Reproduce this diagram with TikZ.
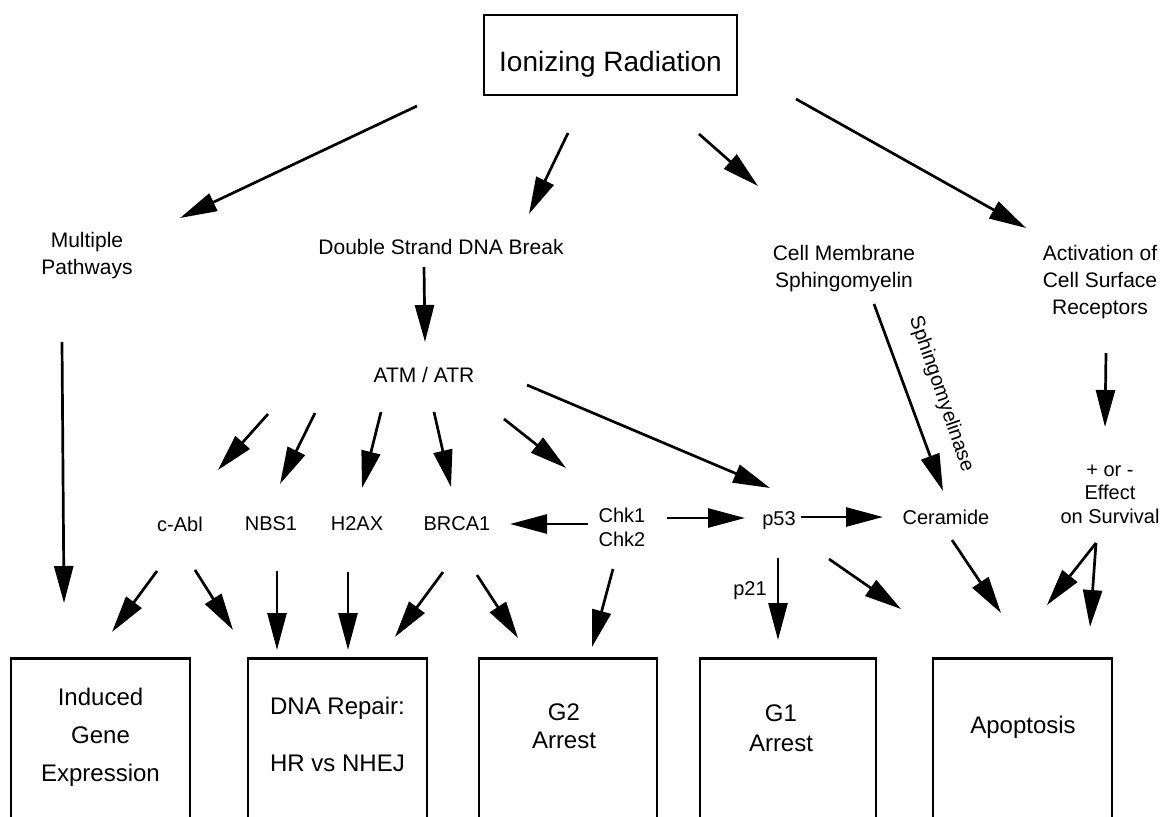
\documentclass[tikz,border=0pt]{standalone}
\usepackage{fontspec}
\setmainfont{Liberation Sans}
\usetikzlibrary{arrows.meta,calc}
\begin{document}
\begin{tikzpicture}[x=1pt,y=-1pt,
  arr/.style={line width=2.7pt,-{Triangle[length=37pt,width=19pt]}},
  lab/.style={font=\fontsize{21}{27}\selectfont,align=center,inner sep=0pt},
  mid/.style={font=\fontsize{20}{24}\selectfont,align=center,inner sep=0pt},
  btxt/.style={font=\fontsize{24}{30}\selectfont,align=center,inner sep=0pt},
  obox/.style={draw,line width=2.7pt,minimum width=#1,minimum height=220pt,anchor=north,inner sep=0pt}
]
\useasboundingbox (0,0) rectangle (1168,817);
\clip (0,0) rectangle (1168,817);

% top box
\node[draw,line width=2.7pt,minimum width=253pt,minimum height=80pt,inner sep=0pt] (ir) at (610.5,55) {};
\node[font=\fontsize{28}{34}\selectfont,inner sep=0pt] (irt) at (610.5,64) {Ionizing Radiation};

% second level
\node[lab] (mp) at (87,255.5) {Multiple\\Pathways};
\node[lab] (dsb) at (441,247) {Double Strand DNA Break};
\node[lab] (cms) at (844,269) {Cell Membrane\\Sphingomyelin};
\node[lab] (acsr) at (1100,282) {Activation of\\Cell Surface\\Receptors};

\node[lab] (atm) at (424,375) {ATM / ATR};

% middle row
\node[mid] (cabl) at (180,524) {c-Abl};
\node[mid] (nbs1) at (271,524) {NBS1};
\node[mid] (h2ax) at (357,524) {H2AX};
\node[mid] (brca1) at (457,524) {BRCA1};
\node[mid] (chk) at (622,527) {Chk1\\Chk2};
\node[mid] (p53) at (779,521) {p53};
\node[mid] (cer) at (946,517) {Ceramide};
\node[mid,font=\fontsize{20}{23.5}\selectfont] (eff) at (1110,494) {+ or -\\Effect\\on Survival};
\node[mid] (p21) at (750,591) {p21};
\node[mid,rotate=-71] (sph) at (941,394) {Sphingomyelinase};

% bottom boxes (open at the bottom edge)
\node[obox=179pt] (b1) at (100.5,657) {};
\node[obox=179pt] (b2) at (337.5,657) {};
\node[obox=178pt] (b3) at (568,657) {};
\node[obox=176pt] (b4) at (788,657) {};
\node[obox=179pt] (b5) at (1022.5,657) {};
\node[btxt,font=\fontsize{24}{38}\selectfont] (bt1) at (100.5,737) {Induced\\Gene\\Expression};
\node[btxt,font=\fontsize{24}{57}\selectfont] (bt2) at (337.5,734) {DNA Repair:\\HR vs NHEJ};
\node[btxt,font=\fontsize{24}{28}\selectfont] (bt3) at (564,726) {G2\\Arrest};
\node[btxt,font=\fontsize{24}{30}\selectfont] (bt4) at (781,728) {G1\\Arrest};
\node[btxt] (bt5) at (1023,727) {Apoptosis};

% arrows from Ionizing Radiation
\draw[arr] ($(ir)+(-193.5,51)$) -- ($(mp)+(93,-37.5)$);
\draw[arr] ($(ir)+(-42.5,78)$) -- ($(dsb)+(88,-33)$);
\draw[arr] ($(ir)+(88.5,79)$) -- ($(cms)+(-86,-83)$);
\draw[arr] ($(ir)+(185.5,44)$) -- ($(acsr)+(-74,-54)$);

% second level
\draw[arr] ($(mp)+(-25,86.5)$) -- ($(b1.north)+(-36.5,-54)$);
\draw[arr] ($(dsb)+(-17,20)$) -- ($(atm)+(1,-33)$);
\draw[arr] ($(cms)+(30,35)$) -- ($(cer)+(-3,-26)$);
\draw[arr] ($(acsr)+(6,71)$) -- ($(eff)+(-5,-67)$);

% from ATM / ATR
\draw[arr] ($(atm)+(-156,39)$) -- ($(cabl)+(38,-54)$);
\draw[arr] ($(atm)+(-109,38)$) -- ($(nbs1)+(9,-40)$);
\draw[arr] ($(atm)+(-43,37)$) -- ($(h2ax)+(5,-36)$);
\draw[arr] ($(atm)+(10,37)$) -- ($(brca1)+(-6,-37)$);
\draw[arr] ($(atm)+(80,44)$) -- ($(chk)+(-56,-59)$);
\draw[arr] ($(atm)+(103,10)$) -- ($(p53)+(-9,-33)$);

% middle row horizontal
\draw[arr] ($(chk)+(-34,-3)$) -- ($(brca1)+(53,0)$);
\draw[arr] ($(chk)+(45,-9)$) -- ($(p53)+(-34,-3)$);
\draw[arr] ($(p53)+(22,-4)$) -- ($(cer)+(-63,0)$);

% to bottom boxes
\draw[arr] ($(cabl)+(-23,47)$) -- ($(b1.north)+(11.5,-25)$);
\draw[arr] ($(cabl)+(15,46)$) -- ($(b2.north)+(-104.5,-27)$);
\draw[arr] ($(nbs1)+(6,47)$) -- ($(b2.north)+(-60.5,-7)$);
\draw[arr] ($(h2ax)+(-9,48)$) -- ($(b2.north)+(10.5,-7)$);
\draw[arr] ($(brca1)+(-14,48)$) -- ($(b2.north)+(57.5,-20)$);
\draw[arr] ($(brca1)+(20,51)$) -- ($(b3.north)+(-50,-19)$);
\draw[arr] ($(chk)+(-9,42)$) -- ($(b3.north)+(24,-10)$);
\draw[arr] ($(p53)+(-1,37)$) -- ($(b4.north)+(-10,-17)$);
\draw[arr] ($(p53)+(50,38)$) -- ($(b5.north)+(-121.5,-48)$);
\draw[arr] ($(cer)+(6,23)$) -- ($(b5.north)+(-21.5,-44)$);
\draw[arr] ($(eff)+(-14,49)$) -- ($(b5.north)+(24.5,-52)$);
\draw[arr] ($(eff)+(-14,49)$) -- ($(b5.north)+(67.5,-30)$);
\end{tikzpicture}
\end{document}
